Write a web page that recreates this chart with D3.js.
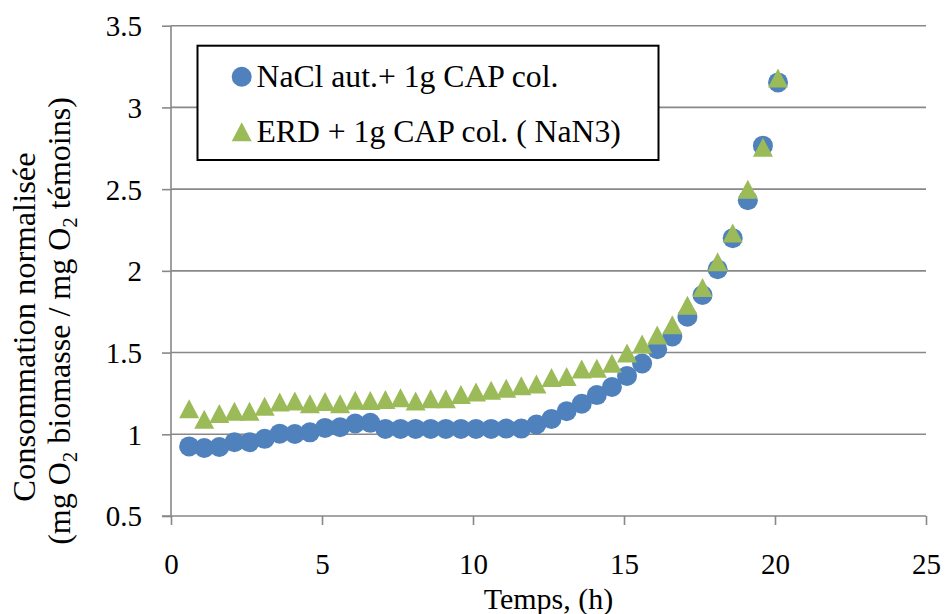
<!DOCTYPE html>
<html><head><meta charset="utf-8">
<script src="https://cdn.jsdelivr.net/npm/d3@7"></script>
<style>body{margin:0;background:#fff}svg{display:block}
svg text{font-family:"Liberation Serif","Tinos","DejaVu Serif","Times New Roman",serif !important;fill:#000}</style>
</head><body>
<svg id="chart" width="945" height="614"></svg>
<script>
const times = [0.6,1.1,1.6,2.1,2.6,3.1,3.6,4.1,4.6,5.1,5.6,6.1,6.6,7.1,7.6,8.1,8.6,9.1,9.6,10.1,
  10.6,11.1,11.6,12.1,12.6,13.1,13.6,14.1,14.6,15.1,15.6,16.1,16.6,17.1,17.6,18.1,18.6,19.1,19.6,20.1];
const naclValues = [0.926,0.916,0.922,0.951,0.951,0.972,1.004,1.002,1.012,1.039,1.043,1.066,1.070,1.033,1.033,1.033,1.033,1.033,1.033,1.033,
  1.033,1.035,1.035,1.060,1.094,1.141,1.187,1.240,1.289,1.357,1.433,1.520,1.598,1.719,1.852,2.010,2.200,2.432,2.766,3.153];
const erdValues = [1.156,1.092,1.127,1.141,1.141,1.172,1.197,1.203,1.187,1.201,1.187,1.209,1.207,1.213,1.224,1.203,1.218,1.218,1.244,1.258,
  1.270,1.281,1.297,1.307,1.348,1.353,1.400,1.404,1.435,1.498,1.553,1.608,1.670,1.789,1.898,2.055,2.232,2.500,2.756,3.180];
const xTicks = [0,5,10,15,20,25];
const yTicks = [0.5,1,1.5,2,2.5,3,3.5];
const seriesNames = ["NaCl aut.+ 1g CAP col.", "ERD + 1g CAP col. ( NaN3)"];
const colors = ["#4F81BD", "#9BBB59"];

const FONT = '"Liberation Serif", Tinos, "DejaVu Serif", "Times New Roman", serif';
const svg = d3.select("#chart");
const L = 171, R = 926, T = 25.7, B = 516;
const x = d3.scaleLinear().domain([0,25]).range([L,R]);
const y = d3.scaleLinear().domain([0.5,3.5]).range([B,T]);
const gridColor = "#888888";
const fs = 29;

// gridlines
svg.append("g").selectAll("line").data(yTicks.filter(d=>d>0.5)).join("line")
  .attr("x1", L).attr("x2", R).attr("y1", d=>y(d)).attr("y2", d=>y(d))
  .attr("stroke", gridColor).attr("stroke-width", 1.6);

// y axis
const yAxis = svg.append("g").attr("transform", `translate(${L},0)`)
  .call(d3.axisLeft(y).tickValues(yTicks).tickSize(9).tickPadding(20).tickFormat(d=>String(d)));
yAxis.attr("font-family", FONT);
yAxis.select(".domain").attr("stroke", gridColor).attr("stroke-width", 1.6).attr("d", `M0,${B}V${T}`);
yAxis.selectAll(".tick line").attr("stroke", gridColor).attr("stroke-width", 1.6);
yAxis.selectAll(".tick text").attr("font-size", fs).style("font-family", FONT).attr("fill","#000").attr("dy","0.34em");

// x axis
const xAxis = svg.append("g").attr("transform", `translate(0,${B})`)
  .call(d3.axisBottom(x).tickValues(xTicks).tickSize(9).tickPadding(0).tickFormat(d=>String(d)));
xAxis.attr("font-family", FONT);
xAxis.select(".domain").attr("stroke", gridColor).attr("stroke-width", 1.6).attr("d", `M${L-9},0H${R}`);
xAxis.selectAll(".tick line").attr("stroke", gridColor).attr("stroke-width", 1.6);
xAxis.selectAll(".tick text").attr("font-size", fs).style("font-family", FONT).attr("fill","#000")
  .attr("dy", null).attr("y", 58);

// series 1: circles
svg.append("g").selectAll("circle").data(times.map((t,i)=>[t,naclValues[i]])).join("circle")
  .attr("cx", d=>x(d[0])).attr("cy", d=>y(d[1])).attr("r", 10).attr("fill", colors[0]);

// series 2: triangles
const tw = 20, th = 19;
const tri = (cx, cy) => `M${cx},${cy-th/2}L${cx+tw/2},${cy+th/2}L${cx-tw/2},${cy+th/2}Z`;
svg.append("g").selectAll("path").data(times.map((t,i)=>[t,erdValues[i]])).join("path")
  .attr("d", d=>tri(x(d[0]), y(d[1]))).attr("fill", colors[1]);

// legend
const lg = svg.append("g");
lg.append("rect").attr("x", 197.5).attr("y", 45.7).attr("width", 461).attr("height", 114.3)
  .attr("fill", "#fff").attr("stroke", "#000").attr("stroke-width", 2);
lg.append("circle").attr("cx", 241.7).attr("cy", 76.7).attr("r", 10).attr("fill", colors[0]);
lg.append("path").attr("d", tri(241.7, 131.7)).attr("fill", colors[1]);
lg.append("text").attr("x", 256.5).attr("y", 87).attr("font-size", 31.7).style("font-family", FONT).text(seriesNames[0]);
lg.append("text").attr("x", 256.5).attr("y", 142).attr("font-size", 31.7).style("font-family", FONT).text(seriesNames[1]);

// x title
svg.append("text").attr("x", (L+R)/2).attr("y", 609).attr("text-anchor","middle").attr("font-size", 30)
  .style("font-family", FONT).text("Temps, (h)");

// y title
svg.append("text").attr("transform", "translate(35,327) rotate(-90)").attr("text-anchor","middle").attr("font-size", 32.5)
  .style("font-family", FONT).text("Consommation normalisée");
const t2 = svg.append("text").attr("transform", "translate(70,321) rotate(-90)").attr("text-anchor","middle").attr("font-size", 32)
  .style("font-family", FONT);
t2.append("tspan").text("(mg O");
t2.append("tspan").attr("font-size", 21).attr("dy", 7).text("2");
t2.append("tspan").attr("dy", -7).text(" biomasse / mg O");
t2.append("tspan").attr("font-size", 21).attr("dy", 7).text("2");
t2.append("tspan").attr("dy", -7).text(" témoins)");
</script>
</body></html>
